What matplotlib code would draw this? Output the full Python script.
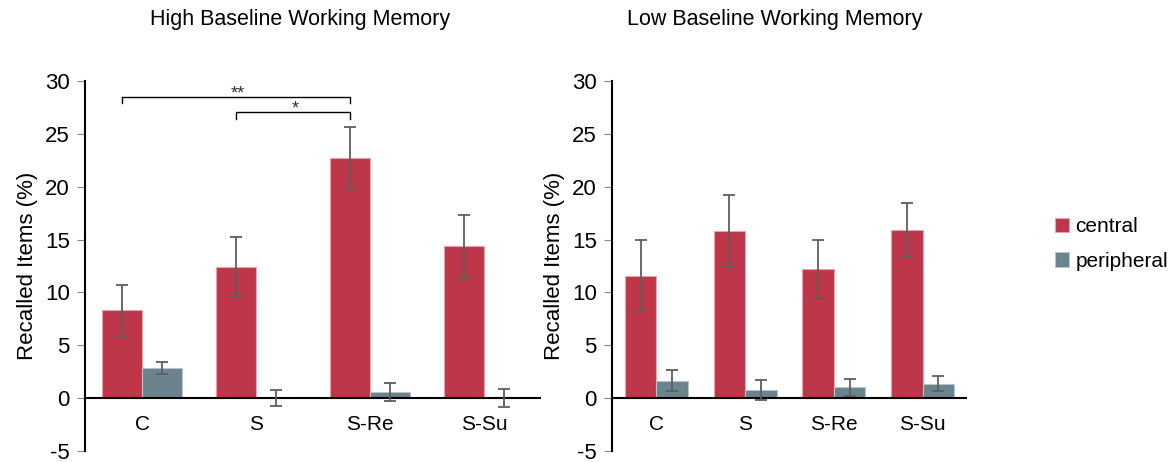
import matplotlib
matplotlib.use("Agg")
import matplotlib.pyplot as plt
import numpy as np

plt.rcParams['font.family'] = ['Liberation Sans', 'DejaVu Sans']

categories = ["C", "S", "S-Re", "S-Su"]
series_names = ["central", "peripheral"]

high_central = [8.3, 12.45, 22.7, 14.35]
high_central_err = [2.4, 2.75, 2.95, 3.0]
high_peripheral = [2.85, 0.0, 0.6, 0.0]
high_peripheral_err = [0.6, 0.78, 0.85, 0.83]

low_central = [11.6, 15.8, 12.2, 15.95]
low_central_err = [3.4, 3.4, 2.77, 2.54]
low_peripheral = [1.65, 0.8, 1.05, 1.35]
low_peripheral_err = [0.97, 0.95, 0.8, 0.7]

titles = ["High Baseline Working Memory", "Low Baseline Working Memory"]
ylabel = "Recalled Items (%)"
yticks = [-5, 0, 5, 10, 15, 20, 25, 30]

# significance: (cat_i, cat_j, bracket level, tip level, label)
sig_brackets = [(0, 2, 28.5, 27.9, "**"), (1, 2, 27.1, 26.4, "*")]

red = "#BE3649"
grey = "#6A838C"
edge_red = "#E7A3AD"
edge_grey = "#B8C6CB"
err_color = "#5E5E5E"

FS = 15
TFS = 16

W, H = 1173, 462
fig = plt.figure(figsize=(W / 100, H / 100), dpi=100)
ax1 = fig.add_axes([85 / W, 11 / H, 456 / W, 370 / H])
ax2 = fig.add_axes([612 / W, 11 / H, 355 / W, 370 / H])

bw = 0.355
x = np.arange(len(categories))

def draw(ax, c, ce, p, pe, title, title_x):
    ax.bar(x - bw / 2, c, bw, color=red, edgecolor=edge_red, linewidth=0.8, label=series_names[0], zorder=2)
    ax.bar(x + bw / 2, p, bw, color=grey, edgecolor=edge_grey, linewidth=0.8, label=series_names[1], zorder=2)
    ax.errorbar(x - bw / 2, c, yerr=ce, fmt='none', ecolor=err_color, elinewidth=1.3, capsize=4, capthick=1.3, zorder=4)
    ax.errorbar(x + bw / 2, p, yerr=pe, fmt='none', ecolor=err_color, elinewidth=1.3, capsize=4, capthick=1.3, zorder=4)
    ax.axhline(0, color='black', linewidth=1.5, zorder=3)
    ax.set_xlim(-0.5, len(categories) - 0.5)
    ax.set_ylim(-5, 30)
    ax.set_yticks(yticks)
    ax.set_yticklabels([str(t) for t in yticks], fontsize=TFS)
    ax.tick_params(axis='y', direction='out', length=6, width=0.8, color='#888888', pad=5)
    ax.tick_params(axis='x', length=0)
    ax.set_xticks([])
    for i, cat in enumerate(categories):
        ax.text(x[i], -2.45, cat, ha='center', va='center', fontsize=FS)
    for s in ['top', 'right', 'bottom']:
        ax.spines[s].set_visible(False)
    ax.spines['left'].set_linewidth(1.5)
    ax.set_ylabel(ylabel, fontsize=TFS, labelpad=5)
    fig.text(title_x / W, 1 - 20 / H, title, ha='center', va='center', fontsize=15.5)

draw(ax1, high_central, high_central_err, high_peripheral, high_peripheral_err, titles[0], 300)
draw(ax2, low_central, low_central_err, low_peripheral, low_peripheral_err, titles[1], 775)

for i, j, top, tip, lab in sig_brackets:
    xi, xj = x[i] - bw / 2, x[j] - bw / 2
    ax1.plot([xi, xi, xj, xj], [tip, top, top, tip], color='black', linewidth=1.0, zorder=5)
    ax1.text((xi + xj) / 2 + 0.02, top - 0.57, lab, ha='center', va='bottom', fontsize=13, color='#333333')

handles, labels = ax2.get_legend_handles_labels()
fig.legend(handles, labels, loc='center left', bbox_to_anchor=(1036 / W, 1 - 244 / H),
           frameon=False, fontsize=FS, handlelength=0.7, handleheight=0.7,
           handletextpad=0.3, labelspacing=0.75)

fig.savefig("out.png", dpi=100)
